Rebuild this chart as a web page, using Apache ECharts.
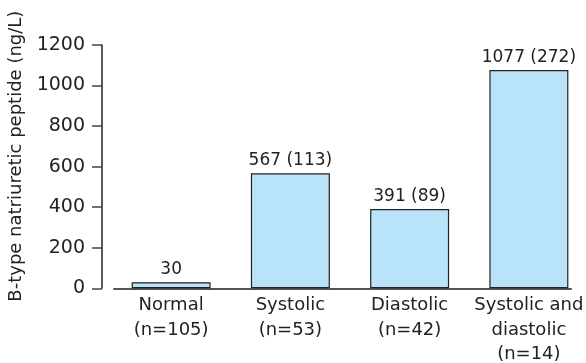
<!DOCTYPE html>
<html>
<head>
<meta charset="utf-8">
<style>html,body{margin:0;padding:0;background:#fff;}#c{width:586px;height:363px;}</style>
<script src="https://cdn.jsdelivr.net/npm/echarts@6/dist/echarts.min.js"></script>
</head>
<body>
<div id="c"></div>
<script>
var categories = ['Normal\n(n=105)', 'Systolic\n(n=53)', 'Diastolic\n(n=42)', 'Systolic and\ndiastolic\n(n=14)'];
var meanValues = [30, 567, 391, 1077];
var sdValues = [null, 113, 89, 272];
var yTicks = [0, 200, 400, 600, 800, 1000, 1200];

var chart = echarts.init(document.getElementById('c'), null, {renderer: 'canvas'});
var font = 'DejaVu Sans';
chart.setOption({
  animation: false,
  grid: [
    {left: 111.5, right: -2.5, top: 45, bottom: 74.7, outerBoundsMode: 'none', containLabel: false},
    {left: 114, right: 15, top: 45, bottom: 74.7, outerBoundsMode: 'none', containLabel: false}
  ],
  xAxis: [
    {
      type: 'category', gridIndex: 0, data: categories,
      axisLine: {show: false}, axisTick: {show: false},
      axisLabel: {color: '#222', fontFamily: font, fontSize: 18, lineHeight: 24.5, margin: 5, interval: 0, hideOverlap: false}
    },
    {
      type: 'value', gridIndex: 1, min: 0, max: 1,
      axisLine: {show: true, onZero: false, lineStyle: {color: '#555', width: 2}},
      axisTick: {show: false}, axisLabel: {show: false}, splitLine: {show: false}
    }
  ],
  yAxis: [
    {
      type: 'value', gridIndex: 0, min: yTicks[0], max: yTicks[yTicks.length - 1], interval: 200,
      offset: 9.5,
      name: 'B-type natriuretic peptide (ng/L)', nameLocation: 'middle', nameGap: 77,
      nameTextStyle: {color: '#222', fontFamily: font, fontSize: 18, padding: [0, 0, 0, 21]},
      axisLine: {show: true, lineStyle: {color: '#222', width: 1.5}},
      axisTick: {show: true, length: 10, lineStyle: {color: '#444', width: 1.5}},
      axisLabel: {color: '#222', fontFamily: font, fontSize: 19, margin: 17,
        formatter: function (v) { return String(v); }},
      splitLine: {show: false}
    },
    {type: 'value', gridIndex: 1, min: 0, max: 1, show: false}
  ],
  series: [{
    type: 'bar', xAxisIndex: 0, yAxisIndex: 0,
    data: meanValues,
    barWidth: 79,
    itemStyle: {color: '#b9e3f8', borderColor: '#222', borderWidth: 1.2},
    label: {
      show: true, position: 'top', distance: 4,
      color: '#222', fontFamily: font, fontSize: 17,
      formatter: function (p) {
        var sd = sdValues[p.dataIndex];
        return sd == null ? String(p.value) : p.value + ' (' + sd + ')';
      }
    }
  }]
});
</script>
</body>
</html>
